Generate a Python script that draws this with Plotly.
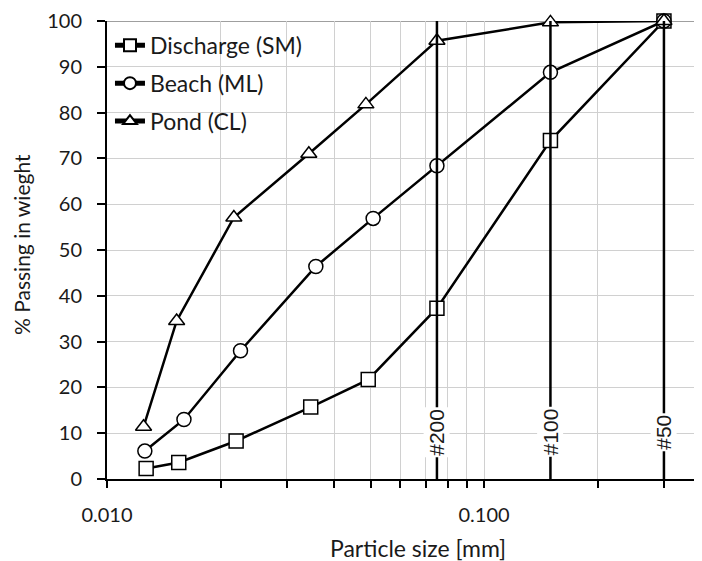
import numpy as np
import plotly.graph_objects as go

# Data
discharge_x = [0.0127, 0.0155, 0.0220, 0.0347, 0.0493, 0.075, 0.150, 0.300]
discharge_y = [2.3, 3.6, 8.3, 15.7, 21.7, 37.3, 73.9, 100.0]
beach_x = [0.0126, 0.0160, 0.0226, 0.0358, 0.0508, 0.075, 0.150, 0.300]
beach_y = [6.1, 13.0, 28.0, 46.4, 56.9, 68.4, 88.8, 100.0]
pond_x = [0.0125, 0.0153, 0.0217, 0.0343, 0.0486, 0.075, 0.150, 0.300]
pond_y = [11.4, 34.5, 57.1, 71.0, 81.8, 95.7, 99.7, 100.0]

sieve_sizes = [0.075, 0.150, 0.300]
sieve_labels = ["#200", "#100", "#50"]

x_tickvals = [0.01, 0.02, 0.03, 0.04, 0.05, 0.06, 0.07, 0.08, 0.09, 0.1, 0.2, 0.3]
x_ticktext = ["0.010", "", "", "", "", "", "", "", "", "0.100", "", ""]
y_tickvals = list(range(0, 101, 10))

FONT = "Lato"
FS = 20
TFS = 23
TXT = "#1a1a1a"

fig = go.Figure()

series = [
    ("Discharge (SM)", discharge_x, discharge_y, "square"),
    ("Beach (ML)", beach_x, beach_y, "circle"),
    ("Pond (CL)", pond_x, pond_y, "triangle-up"),
]
for name, xs, ys, sym in series:
    fig.add_trace(go.Scatter(
        x=xs, y=ys, name=name, mode="lines+markers",
        legendgroup=name,
        line=dict(color="black", width=2.5),
        marker=dict(symbol=sym, size=14, color="white",
                    line=dict(color="black", width=1.5)),
        cliponaxis=False,
    ))

# sieve lines
for sx, lab in zip(sieve_sizes, sieve_labels):
    fig.add_shape(type="line", xref="x", yref="y", x0=sx, x1=sx, y0=0, y1=100,
                  line=dict(color="black", width=2.5), layer="above")
    fig.add_annotation(x=np.log10(sx), y=10.3, xref="x", yref="y", text=lab,
                       textangle=-90, showarrow=False, bgcolor="white",
                       borderpad=1,
                       font=dict(family="Liberation Sans", size=21, color=TXT))

# top border line
fig.add_shape(type="line", xref="paper", yref="y", x0=0, x1=1, y0=100, y1=100,
              line=dict(color="#7f7f7f", width=1.5), layer="below")

PH = 458  # plot height in px

# axis titles
fig.add_annotation(x=(418 - 107) / 595, y=-(548 - 479) / PH, xref="paper", yref="paper",
                   text="Particle size [mm]", showarrow=False, yanchor="middle",
                   font=dict(family=FONT, size=TFS, color=TXT))
fig.add_annotation(x=(21 - 107) / 595, y=(479 - 244) / PH, xref="paper", yref="paper",
                   text="% Passing in wieght", showarrow=False, textangle=-90,
                   xanchor="center", yanchor="middle",
                   font=dict(family=FONT, size=21, color=TXT))

# page body has an 8px margin; compensate so the plot lands where the reference has it
fig.update_layout(
    width=694, height=553,
    margin=dict(l=99, r=0, t=13, b=82),
    plot_bgcolor="white", paper_bgcolor="white",
    showlegend=True,
    legend=dict(x=0.005, y=0.9939, xanchor="left", yanchor="top",
                bgcolor="rgba(255,255,255,0)", itemwidth=30,
                tracegroupgap=5, itemsizing="constant",
                font=dict(family=FONT, size=TFS, color=TXT)),
    font=dict(family=FONT, size=FS, color=TXT),
)
fig.update_xaxes(
    type="log", range=[-2, np.log10(0.3785)], automargin=False,
    tickvals=x_tickvals, ticktext=x_ticktext,
    ticks="outside", ticklen=7, tickwidth=1.5, tickcolor="black",
    showline=True, linecolor="black", linewidth=2,
    showgrid=True, gridcolor="#d0d0d0", gridwidth=1,
    zeroline=False, ticklabelstandoff=10, ticklabeloverflow="allow",
    tickfont=dict(family=FONT, size=FS, color=TXT),
)
fig.update_yaxes(
    range=[0, 100], tickvals=y_tickvals, automargin=False,
    ticks="outside", ticklen=8, tickwidth=1.5, tickcolor="black",
    showline=True, linecolor="black", linewidth=2,
    showgrid=True, gridcolor="#d0d0d0", gridwidth=1,
    zeroline=False, ticklabelstandoff=11, ticklabeloverflow="allow",
    tickfont=dict(family=FONT, size=FS, color=TXT),
)

fig.write_html("out.html")
